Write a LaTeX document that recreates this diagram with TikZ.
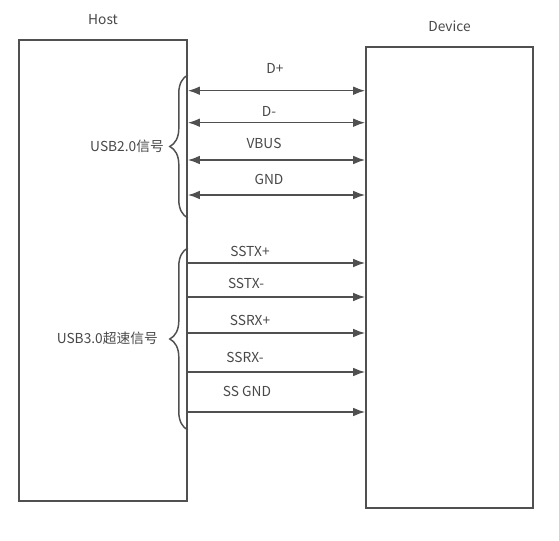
\documentclass[tikz,border=0pt]{standalone}
\usepackage{fontspec}
\setmainfont{Noto Sans CJK SC}
\usetikzlibrary{arrows.meta}
\usetikzlibrary{positioning}
\usetikzlibrary{decorations.pathreplacing}
\definecolor{linegray}{HTML}{505050}
\definecolor{textgray}{HTML}{484848}

\begin{document}
\begin{tikzpicture}[x=0.75pt,y=-0.75pt,
		font=\fontsize{10.3}{12}\selectfont,text=textgray,
		every node/.style={inner sep=0pt},
		box/.style={draw=linegray,line width=1.2pt,rectangle,minimum width=126pt,minimum height=345.75pt},
		sig/.style={draw=linegray,line width=1.2pt,-{Latex[length=9pt,width=6.5pt]}},
		bisig/.style={sig,{Latex[length=9pt,width=6.5pt]}-{Latex[length=9pt,width=6.5pt]}},
		grp/.style={draw=linegray,line width=1.1pt,decorate,decoration={brace,amplitude=13.5pt}}]
		\useasboundingbox (0,0) rectangle (559,541);

		\node [box] (host) at (103,270.5) {};
		\node [box,minimum width=125.25pt] (device) at (449.5,277.5) {};

		\node [above=11pt of host] (hostlbl) {Host};
		\node [above=11pt of device] (devlbl) {Device};

		% USB2.0
		\foreach \y/\ty/\tx/\lab [count=\i] in {90.7/68/275/D+, 122.7/111/269/D-, 160/143/264/VBUS, 195/179/269/GND}{
			\coordinate (ha\i) at (host.east |- 0,\y);
			\coordinate (da\i) at (device.west |- 0,\y);
			\draw [bisig] (ha\i) -- (da\i);
			\node (la\i) at (\tx,\ty) {\lab};
		}

		% USB3.0
		\foreach \y/\ty/\tx/\lab [count=\i] in {263/251/250/SSTX+, 297/283/246/SSTX-, 333/320/250/SSRX+, 372/357/245/SSRX-, 412/391/247/SS GND}{
			\coordinate (hb\i) at (host.east |- 0,\y);
			\coordinate (db\i) at (device.west |- 0,\y);
			\draw [sig] (hb\i) -- (db\i);
			\node (lb\i) at (\tx,\ty) {\lab};
		}

		\coordinate (b2top) at (host.east |- 0,75);
		\coordinate (b2bot) at (host.east |- 0,218);
		\coordinate (b3top) at (host.east |- 0,248);
		\coordinate (b3bot) at (host.east |- 0,430);
		\draw [grp] (b2bot) -- (b2top);
		\draw [grp] (b3bot) -- (b3top);

		\node [anchor=east] (usb2) at (164,146) {USB2.0信号};
		\node [anchor=east] (usb3) at (158,338) {USB3.0超速信号};
	\end{tikzpicture}
\end{document}
